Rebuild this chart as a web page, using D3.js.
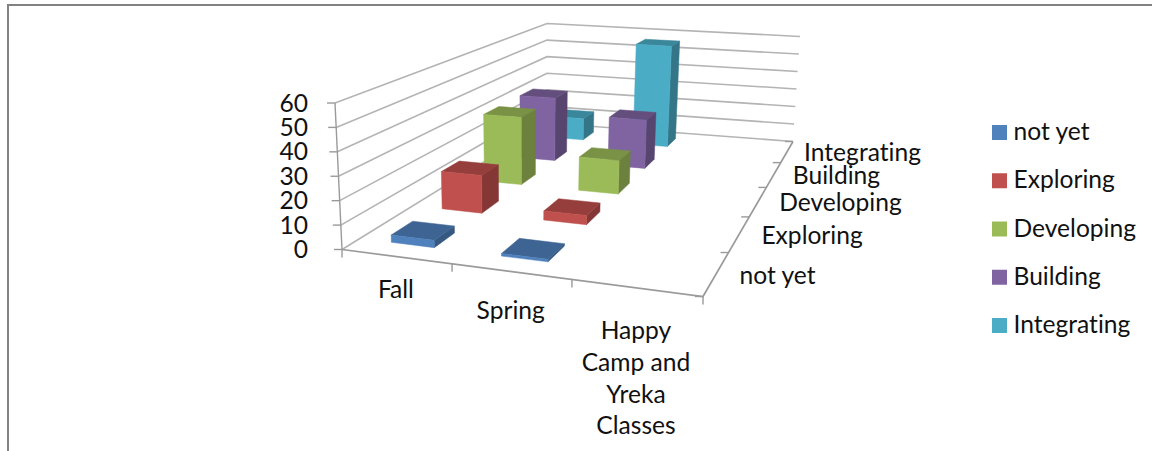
<!DOCTYPE html>
<html><head><meta charset="utf-8">
<script src="https://cdn.jsdelivr.net/npm/d3@7"></script>
<style>html,body{margin:0;padding:0;background:#fff;overflow:hidden}
text{font-family:Lato,"Noto Sans",sans-serif;font-size:24.6px;fill:#111;font-variant-ligatures:none}</style>
</head><body><svg id="c" width="1152" height="451"></svg>
<script>
const categories = ["Fall","Spring","Happy Camp and Yreka Classes"];
const categoryLines = [["Fall"],["Spring"],["Happy","Camp and","Yreka","Classes"]];
const seriesNames = ["not yet","Exploring","Developing","Building","Integrating"];
const seriesColors = ["#4f81bd","#c0504d","#9bbb59","#8064a2","#4bacc6"];
const fallValues = [3,17,33,33,12];
const springValues = [1,4,16,25,56];
const valueTicks = [0,10,20,30,40,50,60];
const valuesByCategory = [fallValues, springValues];

// projection: unit cube (u along categories, v into depth, w up) -> screen
const floorQuad = [[342,249.5],[703,296.5],[793,141.5],[547,123]];
const topQuad   = [[335,103],[710,133],[800,36.5],[547,23.5]];
function homography(q){
  const [[x0,y0],[x1,y1],[x2,y2],[x3,y3]] = q;
  const dx1=x1-x2, dx2=x3-x2, sx=x0-x1+x2-x3, dy1=y1-y2, dy2=y3-y2, sy=y0-y1+y2-y3;
  const den=dx1*dy2-dx2*dy1, g=(sx*dy2-dx2*sy)/den, h=(dx1*sy-sx*dy1)/den;
  const a=x1-x0+g*x1, b=x3-x0+h*x3, d=y1-y0+g*y1, e=y3-y0+h*y3;
  return (u,v)=>{const n=g*u+h*v+1; return [(a*u+b*v+x0)/n,(d*u+e*v+y0)/n];};
}
const floorH = homography(floorQuad), topH = homography(topQuad);
function P(u,v,w){const f=floorH(u,v), t=topH(u,v); return [f[0]+(t[0]-f[0])*w, f[1]+(t[1]-f[1])*w];}

const xBand = d3.scaleBand().domain(categories).range([0,1]);
const zBand = d3.scaleBand().domain(seriesNames).range([0,1]);
const wScale = d3.scaleLinear().domain([0,60]).range([0,1]);
const svg = d3.select("#c");
const line = d3.line();

// outer frame
svg.append("path").attr("d","M8 451V5H1152").attr("fill","none").attr("stroke","#828282").attr("stroke-width",2);

// walls grid
const gridColor="#b4b4b4", axisColor="#9a9a9a";
valueTicks.forEach(t=>{
  const w=wScale(t);
  svg.append("path").attr("d",line([P(0,0,w),P(0,1,w),P(1,1,w)])).attr("fill","none").attr("stroke",gridColor).attr("stroke-width",1.6);
  const p=P(0,0,w);
  svg.append("line").attr("x1",p[0]-8).attr("x2",p[0]).attr("y1",p[1]).attr("y2",p[1]).attr("stroke",axisColor).attr("stroke-width",1.4);
  svg.append("text").attr("x",308).attr("y",p[1]+8.5).attr("text-anchor","end").text(t);
});
// axes
svg.append("path").attr("d",line([P(0,0,1),P(0,0,0)])).attr("fill","none").attr("stroke",axisColor).attr("stroke-width",1.4);
svg.append("path").attr("d",line([P(0,0,0),P(1,0,0),P(1,1,0)])).attr("fill","none").attr("stroke",axisColor).attr("stroke-width",1.7);
d3.range(0,4).forEach(i=>{
  const p=P(i/3,0,0);
  svg.append("line").attr("x1",p[0]).attr("x2",p[0]).attr("y1",p[1]).attr("y2",p[1]+8).attr("stroke",axisColor).attr("stroke-width",1.4);
});
d3.range(0,6).forEach(i=>{
  const p=P(1,i/5,0);
  svg.append("line").attr("x1",p[0]).attr("x2",p[0]-8).attr("y1",p[1]).attr("y2",p[1]).attr("stroke",axisColor).attr("stroke-width",1.4);
});

// bars, painted back to front
const barFrac=0.4;
const face=(pts,fill)=>svg.append("path").attr("d",line(pts)+"Z").attr("fill",fill).attr("stroke",fill).attr("stroke-width",.5).attr("stroke-linejoin","round");
d3.range(seriesNames.length-1,-1,-1).forEach(s=>{
  valuesByCategory.forEach((vals,c)=>{
    const u0=xBand(categories[c])+xBand.bandwidth()*(1-barFrac)/2, u1=u0+xBand.bandwidth()*barFrac;
    const v0=zBand(seriesNames[s])+zBand.bandwidth()*(1-barFrac)/2, v1=v0+zBand.bandwidth()*barFrac;
    const w=wScale(vals[s]), col=d3.color(seriesColors[s]);
    face([P(u1,v0,0),P(u1,v1,0),P(u1,v1,w),P(u1,v0,w)], col.darker(1.05));
    face([P(u0,v0,w),P(u1,v0,w),P(u1,v1,w),P(u0,v1,w)], col.darker(0.7));
    face([P(u0,v0,0),P(u1,v0,0),P(u1,v0,w),P(u0,v0,w)], col);
  });
});

// category labels
const catLabelDy=[33,40,43];
categoryLines.forEach((lines,i)=>{
  const p=P(xBand(categories[i])+xBand.bandwidth()/2,0,0);
  lines.forEach((t,j)=>{
    svg.append("text").attr("x",p[0]).attr("y",p[1]+catLabelDy[i]+8+j*31.9).attr("text-anchor","middle").text(t);
  });
});
// depth labels
const depthLabelDx=[23,22,21,19,17], depthLabelDy=[11,10,10,9,9];
seriesNames.forEach((t,i)=>{
  const p=P(1,zBand(t)+zBand.bandwidth()/2,0);
  svg.append("text").attr("x",p[0]+depthLabelDx[i]).attr("y",p[1]+depthLabelDy[i]).text(t);
});
// legend
const legendY=d3.scalePoint().domain(seriesNames).range([132.5,325.5]);
seriesNames.forEach((t,i)=>{
  const y=legendY(t);
  svg.append("rect").attr("x",992).attr("y",y-7.5).attr("width",15).attr("height",15).attr("fill",seriesColors[i]);
  svg.append("text").attr("x",1013.5).attr("y",y+7.5).text(t);
});
</script></body></html>
